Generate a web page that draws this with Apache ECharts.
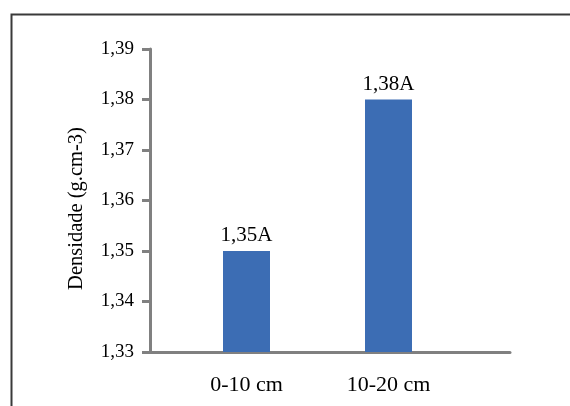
<!DOCTYPE html>
<html>
<head>
<meta charset="utf-8">
<script src="https://cdn.jsdelivr.net/npm/echarts@6/dist/echarts.min.js"></script>
<style>
html,body{margin:0;padding:0;background:#fff;}
#chart{width:570px;height:406px;}
</style>
</head>
<body>
<div id="chart"></div>
<script>
var categories = ['0-10 cm', '10-20 cm'];
var values = [1.35, 1.38];
var letters = ['A', 'A'];
var yMin = 1.33, yMax = 1.39, yStep = 0.01;
var yTitle = 'Densidade (g.cm-3)';

var FONT = 'Liberation Serif';
var AXIS_COLOR = '#808080';
var fmt = function (v) { return Number(v).toFixed(2).replace('.', ','); };

var chart = echarts.init(document.getElementById('chart'));
chart.setOption({
  animation: false,
  backgroundColor: '#fff',
  graphic: [{
    type: 'rect', left: 9, top: 12, silent: true,
    shape: { width: 600, height: 500 },
    style: { fill: 'none', stroke: '#3a3a3a', lineWidth: 2 }
  }],
  grid: [
    { left: 150, top: 49, width: 360, height: 303 },
    { left: 175.5, top: 49, width: 284, height: 303 }
  ],
  xAxis: [
    {
      gridIndex: 0, type: 'category', data: categories,
      axisLine: { lineStyle: { color: AXIS_COLOR, width: 3 } },
      axisTick: { show: false }, axisLabel: { show: false }, splitLine: { show: false }
    },
    {
      gridIndex: 1, type: 'category', data: categories,
      axisLine: { show: false }, axisTick: { show: false }, splitLine: { show: false },
      axisLabel: { fontFamily: FONT, fontSize: 22, color: '#000', margin: 22 }
    }
  ],
  yAxis: [
    {
      gridIndex: 0, type: 'value', min: yMin, max: yMax, interval: yStep,
      name: yTitle, nameLocation: 'middle', nameGap: 63,
      nameTextStyle: { fontFamily: FONT, fontSize: 20.5, color: '#000', padding: [0, 16, 0, 0] },
      axisLine: { show: true, lineStyle: { color: AXIS_COLOR, width: 3 } },
      axisTick: { show: true, length: 8, lineStyle: { color: AXIS_COLOR, width: 3 } },
      splitLine: { show: false },
      axisLabel: { fontFamily: FONT, fontSize: 19, color: '#000', margin: 16, formatter: fmt }
    },
    {
      gridIndex: 1, type: 'value', min: yMin, max: yMax, interval: yStep, show: false,
      splitLine: { show: false }
    }
  ],
  series: [{
    type: 'bar', xAxisIndex: 1, yAxisIndex: 1,
    data: values, barWidth: 47,
    itemStyle: { color: '#3c6db4' },
    label: {
      show: true, position: 'top', distance: 5,
      fontFamily: FONT, fontSize: 21, color: '#000',
      formatter: function (p) { return fmt(p.value) + letters[p.dataIndex]; }
    }
  }]
});
</script>
</body>
</html>
